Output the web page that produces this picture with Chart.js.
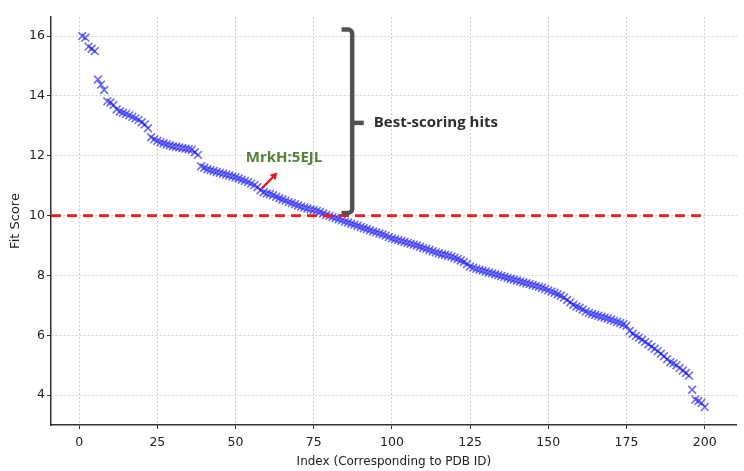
<!DOCTYPE html>
<html>
<head>
<meta charset="utf-8">
<script src="https://cdn.jsdelivr.net/npm/chart.js@4.4.1/dist/chart.umd.min.js"></script>
<style>
  html, body { margin: 0; padding: 0; background: #ffffff; }
  canvas { display: block; }
</style>
</head>
<body>
<canvas id="c" width="744" height="471"></canvas>
<script>
// ---- data ----
const indices = [];
for (let i = 1; i <= 200; i++) indices.push(i);

const fitScores = [
  16.00, 15.95, 15.65, 15.58, 15.50, 14.55, 14.38, 14.20, 13.82, 13.78,
  13.70, 13.55, 13.48, 13.44, 13.40, 13.35, 13.30, 13.25, 13.20, 13.12,
  13.05, 12.92, 12.62, 12.55, 12.50, 12.45, 12.42, 12.38, 12.35, 12.32,
  12.30, 12.28, 12.26, 12.24, 12.22, 12.20, 12.12, 12.03, 11.65, 11.60,
  11.55, 11.52, 11.49, 11.46, 11.43, 11.40, 11.37, 11.34, 11.31, 11.28,
  11.24, 11.20, 11.16, 11.12, 11.07, 11.02, 10.95, 10.85, 10.78, 10.74,
  10.72, 10.68, 10.63, 10.58, 10.54, 10.50, 10.45, 10.42, 10.38, 10.34,
  10.30, 10.27, 10.24, 10.21, 10.19, 10.16, 10.12, 10.07, 10.02, 9.99,
  9.95, 9.92, 9.88, 9.84, 9.80, 9.77, 9.73, 9.70, 9.66, 9.62,
  9.58, 9.55, 9.51, 9.47, 9.44, 9.40, 9.37, 9.33, 9.28, 9.24,
  9.21, 9.18, 9.15, 9.12, 9.09, 9.06, 9.03, 9.00, 8.96, 8.92,
  8.89, 8.85, 8.81, 8.77, 8.74, 8.71, 8.69, 8.66, 8.63, 8.59,
  8.55, 8.50, 8.45, 8.38, 8.30, 8.26, 8.22, 8.19, 8.16, 8.13,
  8.10, 8.07, 8.04, 8.01, 7.98, 7.95, 7.92, 7.89, 7.86, 7.83,
  7.80, 7.77, 7.74, 7.71, 7.68, 7.65, 7.62, 7.59, 7.55, 7.50,
  7.46, 7.42, 7.37, 7.32, 7.26, 7.18, 7.10, 7.02, 6.96, 6.92,
  6.86, 6.80, 6.75, 6.71, 6.68, 6.65, 6.62, 6.59, 6.56, 6.52,
  6.48, 6.45, 6.41, 6.37, 6.32, 6.14, 6.05, 5.98, 5.92, 5.85,
  5.78, 5.70, 5.62, 5.55, 5.47, 5.38, 5.30, 5.20, 5.10, 5.06,
  5.00, 4.90, 4.82, 4.74, 4.65, 4.18, 3.85, 3.80, 3.74, 3.60
];

const thresholdX = [-9, 200.5];
const thresholdY = [10, 10];

const xTickValues = [0, 25, 50, 75, 100, 125, 150, 175, 200];
const yTickValues = [4, 6, 8, 10, 12, 14, 16];

const xTitle = 'Index (Corresponding to PDB ID)';
const yTitle = 'Fit Score';
const bracketLabel = 'Best-scoring hits';
const pointLabel = 'MrkH:5EJL';

// ---- annotation geometry (data units) ----
const annotationGeom = {
  bracketX: 87.3, bracketTop: 16.22, bracketBottom: 10.09, bracketHookX: 83.9,
  bracketMid: 13.10, bracketTickX: 91.0,
  bracketTextX: 94.2, bracketTextY: 13.12,
  pointTextX: 53.3, pointTextY: 11.95,
  arrowFrom: [58.4, 10.91], arrowTo: [63.4, 11.44]
};

const scatterData = indices.map((v, i) => ({ x: v, y: fitScores[i] }));
const thresholdData = thresholdX.map((v, i) => ({ x: v, y: thresholdY[i] }));

const annotPlugin = {
  id: 'annot',
  afterDatasetsDraw(chart) {
    const { ctx, scales: { x, y } } = chart;
    const g = annotationGeom;
    const px = v => x.getPixelForValue(v), py = v => y.getPixelForValue(v);
    ctx.save();
    // bracket
    ctx.strokeStyle = '#525252';
    ctx.lineWidth = 4.5;
    ctx.lineCap = 'butt';
    ctx.lineJoin = 'round';
    ctx.setLineDash([]);
    const bx = px(g.bracketX), bt = py(g.bracketTop), bb = py(g.bracketBottom), bl = px(g.bracketHookX);
    ctx.beginPath();
    ctx.moveTo(bl, bt);
    ctx.arcTo(bx, bt, bx, bb, 4);
    ctx.arcTo(bx, bb, bl, bb, 4);
    ctx.lineTo(bl, bb);
    ctx.stroke();
    ctx.beginPath();
    ctx.moveTo(bx, py(g.bracketMid));
    ctx.lineTo(px(g.bracketTickX), py(g.bracketMid));
    ctx.stroke();
    // texts
    ctx.textBaseline = 'middle';
    ctx.textAlign = 'left';
    ctx.font = 'bold 15px "Open Sans", "DejaVu Sans", sans-serif';
    ctx.fillStyle = '#2e2e2e';
    ctx.fillText(bracketLabel, px(g.bracketTextX), py(g.bracketTextY));
    ctx.fillStyle = '#548235';
    ctx.fillText(pointLabel, px(g.pointTextX), py(g.pointTextY));
    // arrow
    const x1 = px(g.arrowFrom[0]), y1 = py(g.arrowFrom[1]);
    const x2 = px(g.arrowTo[0]), y2 = py(g.arrowTo[1]);
    const ang = Math.atan2(y2 - y1, x2 - x1);
    const hl = 7, hw = 4;
    ctx.strokeStyle = '#e8141c';
    ctx.fillStyle = '#e8141c';
    ctx.lineWidth = 2.2;
    ctx.beginPath();
    ctx.moveTo(x1, y1);
    ctx.lineTo(x2 - Math.cos(ang) * hl * 0.8, y2 - Math.sin(ang) * hl * 0.8);
    ctx.stroke();
    ctx.beginPath();
    ctx.moveTo(x2, y2);
    ctx.lineTo(x2 - Math.cos(ang) * hl - Math.sin(ang) * hw, y2 - Math.sin(ang) * hl + Math.cos(ang) * hw);
    ctx.lineTo(x2 - Math.cos(ang) * hl + Math.sin(ang) * hw, y2 - Math.sin(ang) * hl - Math.cos(ang) * hw);
    ctx.closePath();
    ctx.fill();
    ctx.restore();
  }
};

const tickFont = { family: '"DejaVu Sans", sans-serif', size: 12.5 };
const titleFont = { family: '"DejaVu Sans", sans-serif', size: 12 };

const gridOpts = {
  color: '#cfcfcf',
  lineWidth: 1,
  drawTicks: true,
  tickLength: 4,
  tickColor: '#333333',
  tickWidth: 1,
  tickBorderDash: []
};

new Chart(document.getElementById('c'), {
  type: 'scatter',
  data: {
    datasets: [
      {
        type: 'line',
        label: 'threshold',
        data: thresholdData,
        borderColor: '#ff1414',
        borderWidth: 2.6,
        borderDash: [10, 6],
        pointRadius: 0,
        fill: false,
        order: 0
      },
      {
        label: 'Fit Score',
        data: scatterData,
        pointStyle: 'crossRot',
        pointRadius: 5.5,
        pointBorderWidth: 1.6,
        borderColor: 'rgba(10, 10, 250, 0.6)',
        backgroundColor: 'rgba(10, 10, 250, 0.6)',
        showLine: false,
        order: 1
      }
    ]
  },
  options: {
    responsive: false,
    animation: false,
    devicePixelRatio: 1,
    layout: { padding: { left: 0, top: 17, right: 4, bottom: 0 } },
    plugins: {
      legend: { display: false },
      tooltip: { enabled: false },
      title: { display: false }
    },
    scales: {
      x: {
        type: 'linear',
        min: -9,
        max: 210.3,
        afterFit: s => { s.height = 46; },
        afterBuildTicks: s => { s.ticks = xTickValues.map(v => ({ value: v })); },
        grid: gridOpts,
        border: { color: '#333333', width: 1.5, dash: [2, 2] },
        ticks: { font: tickFont, color: '#222222', padding: 6, maxRotation: 0 },
        title: {
          display: true,
          text: xTitle,
          font: titleFont,
          color: '#222222',
          padding: { top: 0, bottom: 2 }
        }
      },
      y: {
        type: 'linear',
        min: 3.0,
        max: 16.64,
        afterFit: s => { s.width = 51; },
        afterBuildTicks: s => { s.ticks = yTickValues.map(v => ({ value: v })); },
        grid: gridOpts,
        border: { color: '#333333', width: 1.5, dash: [2, 2] },
        ticks: { font: tickFont, color: '#222222', padding: 2 },
        title: {
          display: true,
          text: yTitle,
          font: { family: '"DejaVu Sans", sans-serif', size: 13 },
          color: '#222222',
          padding: { top: 8, bottom: 0 }
        }
      }
    }
  },
  plugins: [annotPlugin]
});
</script>
</body>
</html>
